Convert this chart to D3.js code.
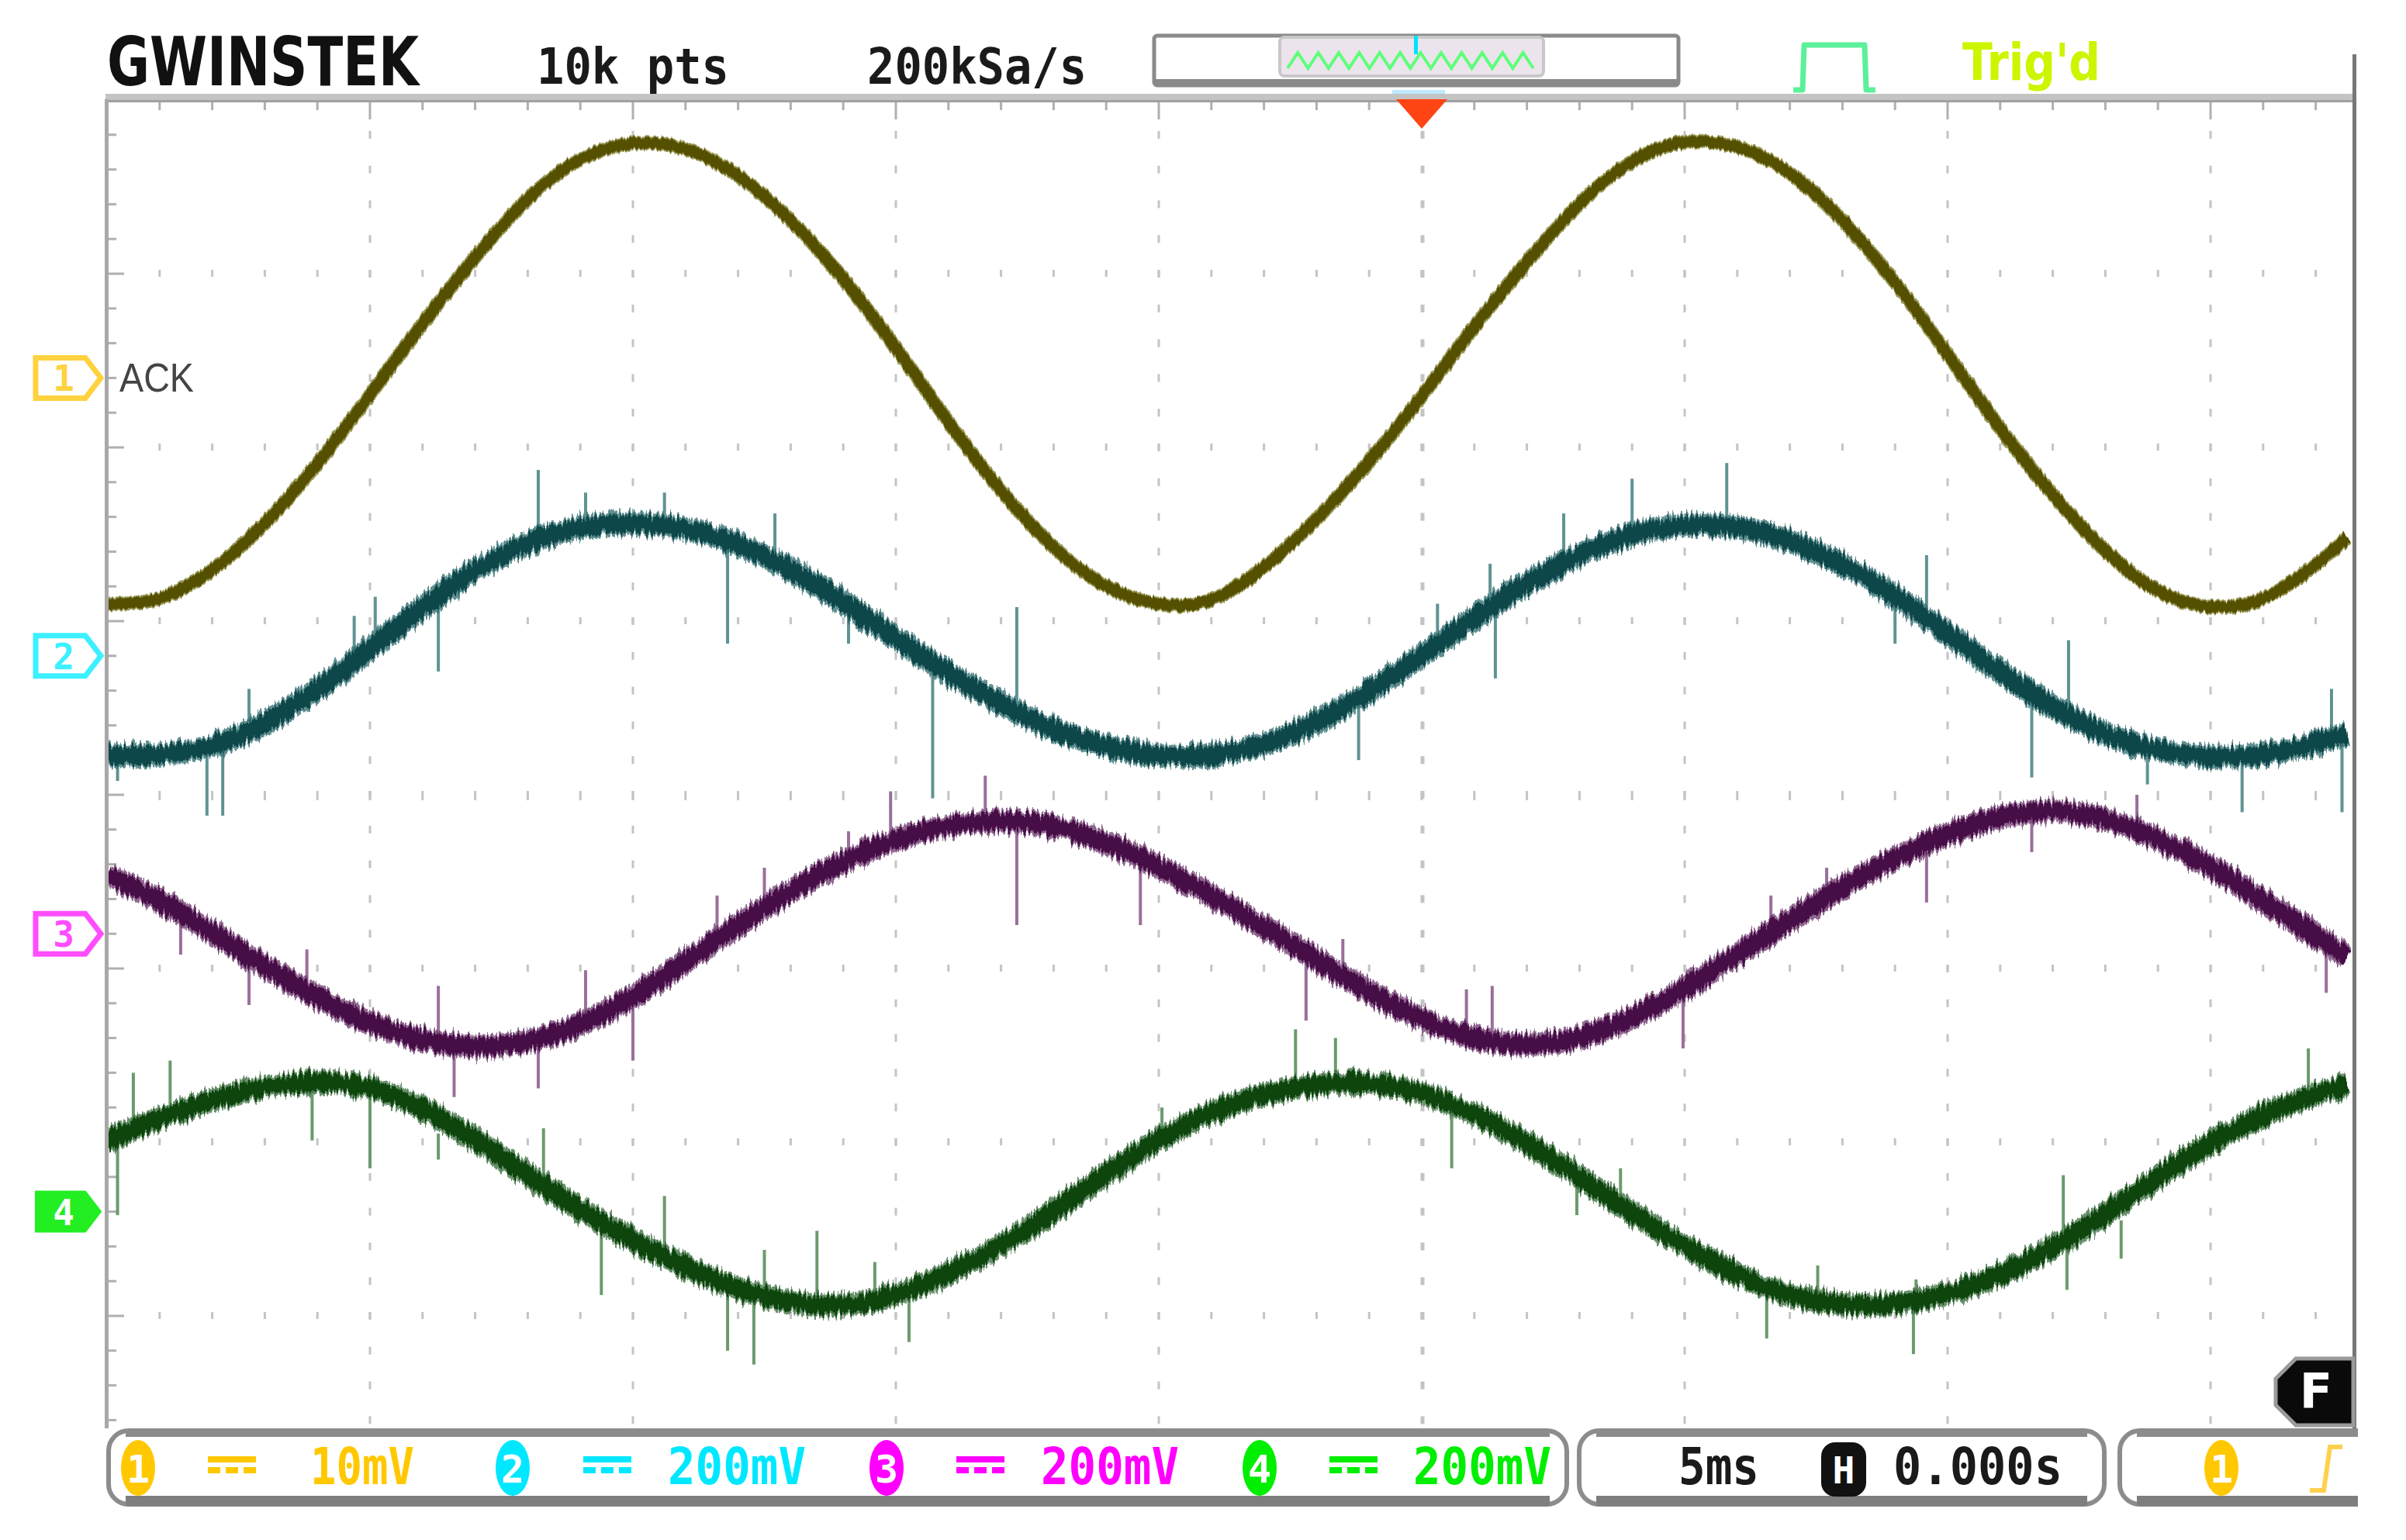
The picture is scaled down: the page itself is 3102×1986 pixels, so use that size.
<!DOCTYPE html>
<html>
<head>
<meta charset="utf-8">
<script src="https://cdn.jsdelivr.net/npm/d3@7"></script>
<style>
  body { margin: 0; background: #fff; }
  svg { display: block; }
</style>
</head>
<body>
<script>
// sample times (ms from trigger) and channel readings (divisions from screen centre)
var timeMs = [-25, -24, -23, -22, -21, -20, -19, -18, -17, -16, -15, -14, -13, -12, -11, -10, -9, -8, -7, -6, -5,
  -4, -3, -2, -1, 0, 1, 2, 3, 4, 5, 6, 7, 8, 9, 10, 11, 12, 13, 14, 15, 16, 17, 17.6];

var ch1 = [1.10, 1.10, 1.28, 1.55, 1.90, 2.30, 2.72, 3.10, 3.45, 3.68, 3.77, 3.74, 3.58, 3.32, 2.98, 2.58, 2.14, 1.74, 1.41, 1.18, 1.08,
  1.09, 1.30, 1.58, 1.91, 2.29, 2.70, 3.07, 3.42, 3.67, 3.78, 3.75, 3.60, 3.32, 2.96, 2.54, 2.10, 1.72, 1.39, 1.15, 1.06, 1.10, 1.32, 1.48];
var ch2 = [0.23, 0.22, 0.27, 0.40, 0.60, 0.84, 1.08, 1.30, 1.46, 1.55, 1.57, 1.54, 1.45, 1.30, 1.11, 0.90, 0.70, 0.52, 0.37, 0.27, 0.22,
  0.22, 0.28, 0.41, 0.59, 0.80, 1.02, 1.22, 1.39, 1.51, 1.56, 1.55, 1.47, 1.33, 1.15, 0.93, 0.70, 0.50, 0.34, 0.25, 0.21, 0.22, 0.30, 0.35];
var ch3 = [-0.46, -0.60, -0.79, -0.99, -1.17, -1.32, -1.42, -1.46, -1.43, -1.33, -1.17, -0.96, -0.75, -0.55, -0.38, -0.25, -0.17, -0.14, -0.17, -0.27, -0.41,
  -0.58, -0.76, -0.95, -1.14, -1.30, -1.41, -1.45, -1.41, -1.29, -1.12, -0.92, -0.72, -0.53, -0.36, -0.22, -0.12, -0.08, -0.13, -0.25, -0.41, -0.61, -0.81, -0.93];
var ch4 = [-1.99, -1.86, -1.75, -1.68, -1.645, -1.67, -1.80, -1.98, -2.19, -2.39, -2.57, -2.72, -2.85, -2.93, -2.95, -2.89, -2.76, -2.60, -2.40, -2.18, -1.98,
  -1.82, -1.72, -1.66, -1.65, -1.71, -1.83, -2.00, -2.20, -2.41, -2.60, -2.77, -2.89, -2.94, -2.94, -2.88, -2.77, -2.61, -2.42, -2.20, -2.00, -1.84, -1.72, -1.67];

// noise spikes: [time, from, to]
var spikes2 = [[-24.8, 0.22, 0.08], [-23.1, 0.25, -0.12], [-22.8, 0.30, -0.12], [-22.3, 0.42, 0.61], [-20.3, 0.78, 1.03],
  [-19.9, 0.86, 1.14], [-18.7, 1.18, 0.71], [-16.8, 1.47, 1.87], [-15.9, 1.55, 1.74], [-14.4, 1.56, 1.74],
  [-13.2, 1.50, 0.87], [-12.3, 1.39, 1.62], [-10.9, 1.08, 0.87], [-9.3, 0.73, -0.02], [-7.7, 0.50, 1.08],
  [-1.2, 0.60, 0.20], [0.3, 0.83, 1.10], [1.3, 1.03, 1.33], [1.4, 1.05, 0.67], [2.7, 1.32, 1.62], [4.0, 1.50, 1.82],
  [5.8, 1.55, 1.91], [9.0, 1.16, 0.87], [9.6, 1.00, 1.38], [11.6, 0.55, 0.10], [12.3, 0.45, 0.89], [13.8, 0.27, 0.06],
  [15.6, 0.21, -0.10], [17.3, 0.33, 0.61], [17.5, 0.35, -0.10]];
var spikes3 = [[-23.6, -0.62, -0.92], [-22.3, -0.92, -1.21], [-21.2, -1.12, -0.89], [-18.7, -1.44, -1.10], [-18.4, -1.46, -1.74],
  [-16.8, -1.40, -1.69], [-15.9, -1.30, -1.01], [-15.0, -1.16, -1.53], [-13.4, -0.82, -0.58], [-12.5, -0.66, -0.42],
  [-10.9, -0.36, -0.21], [-10.1, -0.24, 0.02], [-8.3, -0.14, 0.11], [-7.7, -0.15, -0.75], [-5.35, -0.35, -0.75],
  [-2.2, -0.86, -1.30], [-1.5, -1.03, -0.83], [0.85, -1.40, -1.12], [1.34, -1.43, -1.10], [4.97, -1.13, -1.46],
  [6.64, -0.83, -0.58], [7.7, -0.67, -0.42], [9.6, -0.33, -0.62], [11.6, -0.08, -0.33], [13.6, -0.20, 0.0], [17.2, -0.85, -1.14]];
var spikes4 = [[-24.8, -1.97, -2.42], [-24.5, -1.94, -1.60], [-23.8, -1.86, -1.53], [-21.1, -1.65, -1.99], [-20.0, -1.66, -2.15],
  [-18.7, -1.95, -2.10], [-16.7, -2.28, -1.92], [-15.6, -2.48, -2.88], [-14.4, -2.62, -2.31], [-13.2, -2.82, -3.20],
  [-12.7, -2.88, -3.28], [-12.5, -2.90, -2.62], [-11.5, -2.94, -2.51], [-10.4, -2.92, -2.69], [-9.75, -2.85, -3.15],
  [-4.94, -1.97, -1.80], [-2.4, -1.66, -1.35], [-1.64, -1.65, -1.40], [0.57, -1.78, -2.15], [2.95, -2.18, -2.42],
  [3.78, -2.37, -2.15], [6.56, -2.83, -3.13], [7.53, -2.91, -2.71], [9.35, -2.94, -3.22], [9.4, -2.94, -2.79],
  [12.2, -2.60, -2.19], [12.27, -2.60, -2.85], [13.3, -2.45, -2.67], [16.86, -1.78, -1.46]];

var channelNames = ["1", "2", "3", "4"];
var channelOffsets = [2.4, 0.8, -0.8, -2.4];
var channelScales = ["10mV", "200mV", "200mV", "200mV"];
var timebase = "5ms";
var hPosition = "0.000s";
var memLength = "10k pts";
var sampleRate = "200kSa/s";

var W = 3102, H = 1986;
var plotLeft = 138, plotRight = 3033, plotTop = 128, plotBottom = 1842;

var svg = d3.select("body").append("svg").attr("width", W).attr("height", H)
  .style("font-family", "'DejaVu Sans Mono', monospace");

// 5 ms per division, 10 divisions; 8 vertical divisions
var x = d3.scaleLinear().domain([-25, 25]).range([plotLeft, plotLeft + 10 * 339]);
var y = d3.scaleLinear().domain([-4, 4]).range([129 + 8 * 224, 129]);

var defs = svg.append("defs");
defs.append("clipPath").attr("id", "plot")
  .append("rect").attr("x", plotLeft + 2).attr("y", plotTop + 4)
  .attr("width", plotRight - plotLeft - 4).attr("height", plotBottom - plotTop - 4);
defs.append("clipPath").attr("id", "bar")
  .append("rect").attr("x", 0).attr("y", 0).attr("width", 3040).attr("height", H);

// vertical jitter so the traces look like a noisy band
function jitter(id, amount, seed) {
  var f = defs.append("filter").attr("id", id).attr("x", "-2%").attr("y", "-20%").attr("width", "104%").attr("height", "140%");
  f.append("feTurbulence").attr("type", "fractalNoise").attr("baseFrequency", "0.3 0.03")
    .attr("numOctaves", 2).attr("seed", seed).attr("result", "noise");
  f.append("feColorMatrix").attr("in", "noise").attr("type", "matrix")
    .attr("values", "0 0 0 0 0.5  0 1.4 0 0 -0.2  0 0 0 0 0  0 0 0 0 1").attr("result", "shift");
  f.append("feDisplacementMap").attr("in", "SourceGraphic").attr("in2", "shift")
    .attr("scale", amount).attr("xChannelSelector", "R").attr("yChannelSelector", "G");
}
jitter("j1", 6, 3);
jitter("j2", 16, 5);
jitter("j3", 16, 7);
jitter("j4", 16, 9);

//Grid dots
var grid = svg.append("g").attr("fill", "#c4c4c4");
var majorT = d3.range(-20, 18, 5);
majorT.forEach(function(t) {
  d3.range(-3.8, 4, 0.2).forEach(function(v) {
    if (y(v) > plotBottom - 4) return;
    grid.append("rect").attr("x", x(t) - 1.5).attr("y", y(v) - 5)
      .attr("width", t == 0 ? 5 : 3).attr("height", 10);
  });
});
d3.range(-3, 4, 1).forEach(function(v) {
  d3.range(-24, 18, 1).forEach(function(t) {
    grid.append("rect").attr("x", x(t) - 1.5).attr("y", y(v) - 5)
      .attr("width", 3).attr("height", v == 0 ? 12 : 9);
  });
});

//Borders with ticks
svg.append("rect").attr("x", plotLeft - 2).attr("y", 121).attr("width", plotRight - plotLeft + 2).attr("height", 11).attr("fill", "#c4c4c4");
svg.append("rect").attr("x", plotLeft - 2).attr("y", 129).attr("width", plotRight - plotLeft + 2).attr("height", 3).attr("fill", "#a0a0a0");
d3.range(-24, 18, 1).forEach(function(t) {
  var major = (t % 5 == 0);
  svg.append("rect").attr("x", x(t) - 1.5).attr("y", 132).attr("width", 3).attr("height", major ? 22 : 10).attr("fill", "#b0b0b0");
});
svg.append("rect").attr("x", plotLeft - 3).attr("y", plotTop).attr("width", 5).attr("height", plotBottom - plotTop).attr("fill", "#a8a8a8");
d3.range(-3.8, 4, 0.2).forEach(function(v) {
  if (y(v) > plotBottom - 4) return;
  var major = Math.abs(v - Math.round(v)) < 0.01;
  svg.append("rect").attr("x", plotLeft + 2).attr("y", y(v) - 1.5).attr("width", major ? 20 : 10).attr("height", 3).attr("fill", "#b0b0b0");
});

//Traces
var line = d3.line().x(function(d) { return x(d[0]); }).y(function(d) { return y(d[1]); }).curve(d3.curveBasis);

var traces = [
  { values: ch1, spikes: [], core: "#555000", halo: "#74711a", width: 14, haloWidth: 18, filter: "j1" },
  { values: ch2, spikes: spikes2, core: "#0b4648", halo: "#2b6a6c", width: 22, haloWidth: 30, filter: "j2" },
  { values: ch3, spikes: spikes3, core: "#470947", halo: "#6a366a", width: 22, haloWidth: 30, filter: "j3" },
  { values: ch4, spikes: spikes4, core: "#0a450e", halo: "#366a38", width: 22, haloWidth: 30, filter: "j4" }
];
var spikeColors = ["#8a8840", "#5f9393", "#9a6f9a", "#6b9a6d"];

var plot = svg.append("g").attr("clip-path", "url(#plot)");
traces.forEach(function(tr, k) {
  var pts = timeMs.map(function(t, i) { return [t, tr.values[i]]; });
  plot.append("g").selectAll("line").data(tr.spikes).join("line")
    .attr("x1", function(d) { return x(d[0]); }).attr("x2", function(d) { return x(d[0]); })
    .attr("y1", function(d) { return y(d[1]); }).attr("y2", function(d) { return y(d[2]); })
    .attr("stroke", spikeColors[k]).attr("stroke-width", 4);
  var g = plot.append("g").attr("filter", "url(#" + tr.filter + ")");
  g.append("path").datum(pts).attr("d", line).attr("fill", "none")
    .attr("stroke", tr.halo).attr("stroke-opacity", 0.75).attr("stroke-width", tr.haloWidth);
  g.append("path").datum(pts).attr("d", line).attr("fill", "none")
    .attr("stroke", tr.core).attr("stroke-width", tr.width);
});

svg.append("rect").attr("x", plotRight).attr("y", 70).attr("width", 5).attr("height", 1872).attr("fill", "#777");

//Channel ground markers
var markerColors = ["#ffd23f", "#3cf0ff", "#ff4dff", "#22ee22"];
channelOffsets.forEach(function(off, i) {
  var cy = y(off);
  var g = svg.append("g");
  var p = "M46," + (cy - 26) + "L110," + (cy - 26) + "L130," + cy + "L110," + (cy + 26) + "L46," + (cy + 26) + "Z";
  var filled = (i == 3);
  g.append("path").attr("d", p)
    .attr("fill", filled ? markerColors[i] : "#fff")
    .attr("stroke", markerColors[i]).attr("stroke-width", filled ? 2 : 7);
  g.append("text").attr("x", 82).attr("y", cy + 17).attr("text-anchor", "middle")
    .attr("font-size", 46).attr("font-weight", "bold")
    .attr("fill", filled ? "#fff" : markerColors[i]).text(channelNames[i]);
});
svg.append("text").attr("x", 154).attr("y", y(channelOffsets[0]) + 18)
  .attr("font-family", "'Liberation Sans', Arial, sans-serif").attr("font-size", 52)
  .attr("textLength", 96).attr("lengthAdjust", "spacingAndGlyphs")
  .attr("fill", "#444").text("ACK");

//Header
svg.append("text").attr("x", 138).attr("y", 110)
  .attr("font-family", "'DejaVu Sans Condensed', 'DejaVu Sans', sans-serif")
  .attr("font-size", 88).attr("font-weight", "bold")
  .attr("textLength", 402).attr("lengthAdjust", "spacingAndGlyphs").attr("fill", "#111").text("GWINSTEK");
svg.append("text").attr("x", 692).attr("y", 108).attr("font-size", 64).attr("font-weight", "bold")
  .attr("textLength", 248).attr("lengthAdjust", "spacingAndGlyphs").attr("fill", "#1a1a1a").text(memLength);
svg.append("text").attr("x", 1118).attr("y", 108).attr("font-size", 64).attr("font-weight", "bold")
  .attr("textLength", 283).attr("lengthAdjust", "spacingAndGlyphs").attr("fill", "#1a1a1a").text(sampleRate);

// memory bar
svg.append("rect").attr("x", 1488).attr("y", 46).attr("width", 676).attr("height", 64).attr("rx", 4)
  .attr("fill", "#fff").attr("stroke", "#8a8a8a").attr("stroke-width", 5);
svg.append("rect").attr("x", 1488).attr("y", 102).attr("width", 676).attr("height", 9).attr("fill", "#8a8a8a");
svg.append("rect").attr("x", 1650).attr("y", 48).attr("width", 340).attr("height", 50).attr("rx", 6)
  .attr("fill", "#ece4ec").attr("stroke", "#c8c8c8").attr("stroke-width", 4);
var zig = d3.range(0, 25).map(function(k) { return [1660 + k * 13.2, k % 2 ? 68 : 88]; });
svg.append("path").attr("d", d3.line()(zig)).attr("fill", "none").attr("stroke", "#5dff7a").attr("stroke-width", 4);
svg.append("rect").attr("x", 1823).attr("y", 46).attr("width", 5).attr("height", 24).attr("fill", "#00e0ff");
svg.append("rect").attr("x", 1795).attr("y", 116).attr("width", 68).attr("height", 5).attr("fill", "#bfe8ff");

// trigger position marker
svg.append("path").attr("d", "M" + (x(0) - 33) + ",128L" + (x(0) + 33) + ",128L" + x(0) + ",166Z").attr("fill", "#ff4514");

// trigger icon and status
svg.append("path").attr("d", "M2312,116L2324,116L2326,58L2404,58L2406,116L2418,116")
  .attr("fill", "none").attr("stroke", "#5cf09a").attr("stroke-width", 7).attr("stroke-linejoin", "round");
svg.append("text").attr("x", 2530).attr("y", 103)
  .attr("font-family", "'DejaVu Sans Condensed', 'DejaVu Sans', sans-serif")
  .attr("font-size", 66).attr("font-weight", "bold")
  .attr("textLength", 178).attr("lengthAdjust", "spacingAndGlyphs").attr("fill", "#ccf500").text("Trig'd");

// F badge
svg.append("path").attr("d", "M2960,1752L3034,1752L3034,1838L2960,1838L2934,1812L2934,1778Z")
  .attr("fill", "#0a0a0a").attr("stroke", "#9a9a9a").attr("stroke-width", 5);
svg.append("text").attr("x", 2986).attr("y", 1815).attr("text-anchor", "middle")
  .attr("font-family", "'DejaVu Sans', sans-serif").attr("font-size", 62).attr("font-weight", "bold")
  .attr("fill", "#fff").text("F");

//Status bar
var bar = svg.append("g").attr("clip-path", "url(#bar)");
function panel(x0, x1) {
  bar.append("rect").attr("x", x0).attr("y", 1845).attr("width", x1 - x0).attr("height", 95).attr("rx", 26)
    .attr("fill", "#fff").attr("stroke", "#8c8c8c").attr("stroke-width", 6);
  bar.append("rect").attr("x", x0 + 22).attr("y", 1843).attr("width", x1 - x0 - 44).attr("height", 10).attr("fill", "#8c8c8c");
  bar.append("rect").attr("x", x0 + 22).attr("y", 1929).attr("width", x1 - x0 - 44).attr("height", 13).attr("fill", "#7e7e7e");
}
panel(140, 2020);
panel(2036, 2713);
panel(2733, 3090);

var statusColors = ["#ffc800", "#00e8ff", "#ff00ff", "#00ee00"];
var iconX = [178, 661, 1143, 1624];
var dcX = [268, 752, 1233, 1714];
var scaleX = [400, 861, 1342, 1822];
function chIcon(cx, color, label) {
  svg.append("ellipse").attr("cx", cx).attr("cy", 1893).attr("rx", 22).attr("ry", 36).attr("fill", color);
  svg.append("text").attr("x", cx).attr("y", 1912).attr("text-anchor", "middle").attr("font-size", 50)
    .attr("font-weight", "bold").attr("fill", "#fff").text(label);
}
channelNames.forEach(function(name, i) {
  chIcon(iconX[i], statusColors[i], name);
  var g = svg.append("g").attr("fill", statusColors[i]);
  g.append("rect").attr("x", dcX[i]).attr("y", 1878).attr("width", 62).attr("height", 8);
  [0, 1, 2].forEach(function(k) {
    g.append("rect").attr("x", dcX[i] + k * 23).attr("y", 1892).attr("width", 16).attr("height", 8);
  });
  svg.append("text").attr("x", scaleX[i]).attr("y", 1914).attr("font-size", 66).attr("font-weight", "bold")
    .attr("textLength", i == 0 ? 134 : 178).attr("lengthAdjust", "spacingAndGlyphs")
    .attr("fill", statusColors[i]).text(channelScales[i]);
});

svg.append("text").attr("x", 2164).attr("y", 1914).attr("font-size", 66).attr("font-weight", "bold")
  .attr("textLength", 104).attr("lengthAdjust", "spacingAndGlyphs").attr("fill", "#1a1a1a").text(timebase);
svg.append("rect").attr("x", 2348).attr("y", 1860).attr("width", 58).attr("height", 70).attr("rx", 18).attr("fill", "#111");
svg.append("text").attr("x", 2377).attr("y", 1913).attr("text-anchor", "middle").attr("font-size", 48)
  .attr("font-weight", "bold").attr("fill", "#fff").text("H");
svg.append("text").attr("x", 2441).attr("y", 1914).attr("font-size", 66).attr("font-weight", "bold")
  .attr("textLength", 218).attr("lengthAdjust", "spacingAndGlyphs").attr("fill", "#1a1a1a").text(hPosition);

chIcon(2864, "#ffc800", "1");
svg.append("path").attr("d", "M2978,1922L2996,1922L3004,1866L3020,1866")
  .attr("fill", "none").attr("stroke", "#ffd050").attr("stroke-width", 6);
</script>
</body>
</html>
